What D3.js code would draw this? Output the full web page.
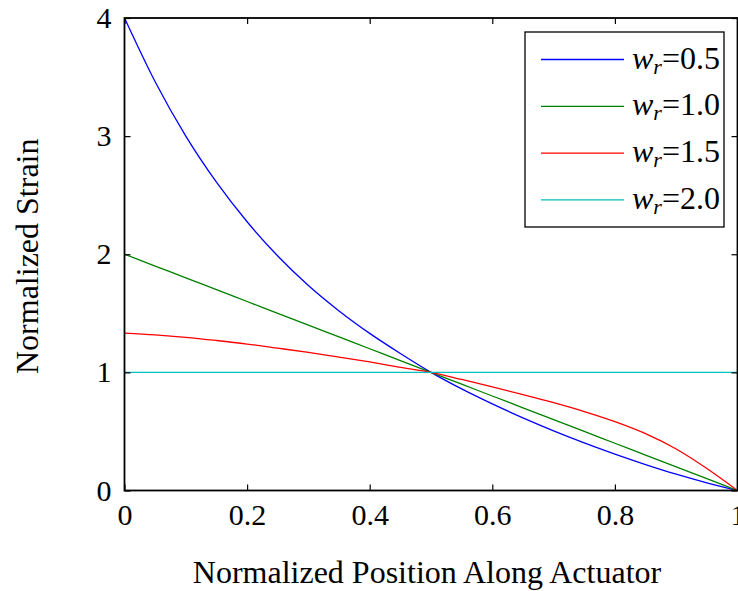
<!DOCTYPE html>
<html><head><meta charset="utf-8">
<script src="https://cdn.jsdelivr.net/npm/d3@7"></script>
<style>body{margin:0;background:#fff}svg{display:block}</style>
</head><body>
<script>
const xValues = [0,0.05,0.1,0.15,0.2,0.25,0.3,0.35,0.4,0.45,0.5,0.55,0.6,0.65,0.7,0.75,0.8,0.85,0.9,0.95,1];
const strainW05 = [4.0,3.46,3.0,2.61,2.275,1.985,1.735,1.52,1.33,1.16,1.0,0.86,0.733,0.615,0.505,0.403,0.308,0.22,0.138,0.065,0];
const strainW10 = [2.0,1.9,1.8,1.7,1.6,1.5,1.4,1.3,1.2,1.1,1.0,0.9,0.8,0.7,0.6,0.5,0.4,0.3,0.2,0.1,0];
const strainW15 = [1.333,1.318,1.297,1.27,1.24,1.205,1.169,1.13,1.088,1.043,1.0,0.94,0.877,0.812,0.743,0.668,0.583,0.481,0.351,0.186,0];
const strainW20 = [1,1,1,1,1,1,1,1,1,1,1,1,1,1,1,1,1,1,1,1,1];
const seriesNames = ["0.5","1.0","1.5","2.0"];
const seriesColors = ["#0000ff","#008000","#ff0000","#00bfbf"];
const xTicks = [0,0.2,0.4,0.6,0.8,1];
const xTickLabels = ["0","0.2","0.4","0.6","0.8","1"];
const yTicks = [0,1,2,3,4];
const yTickLabels = ["0","1","2","3","4"];

const W = 738, H = 591;
const L = 124.5, R = 737.5, T = 18, B = 490.5;
const font = "'Liberation Serif','Times New Roman',serif";
const svg = d3.select("body").append("svg").attr("width", W).attr("height", H);
const x = d3.scaleLinear().domain([0,1]).range([L,R]);
const y = d3.scaleLinear().domain([0,4]).range([B,T]);

const allSeries = [strainW05, strainW10, strainW15, strainW20];
const line = d3.line().x(d => x(d[0])).y(d => y(d[1])).curve(d3.curveMonotoneX);
const g = svg.append("g");
allSeries.forEach((s, i) => {
  g.append("path").datum(xValues.map((xv, j) => [xv, s[j]]))
    .attr("d", line).attr("fill", "none").attr("stroke", seriesColors[i]).attr("stroke-width", 1.3);
});

// axes box with inward ticks
const tickLen = 6;
const axB = d3.axisBottom(x).tickValues(xTicks).tickSize(-tickLen).tickFormat((d,i) => xTickLabels[i]).tickPadding(13);
const axT = d3.axisTop(x).tickValues(xTicks).tickSize(-tickLen).tickFormat("");
const axL = d3.axisLeft(y).tickValues(yTicks).tickSize(-tickLen).tickFormat((d,i) => yTickLabels[i]).tickPadding(13);
const axR = d3.axisRight(y).tickValues(yTicks).tickSize(-tickLen).tickFormat("");
function style(sel){
  sel.select(".domain").remove();
  sel.selectAll("line").attr("stroke","#000").attr("stroke-width",1.2);
  sel.selectAll("text").attr("font-family",font).attr("font-size",30).attr("fill","#000");
}
svg.append("g").attr("transform",`translate(0,${B})`).call(axB).call(style);
svg.append("g").attr("transform",`translate(0,${T})`).call(axT).call(style);
svg.append("g").attr("transform",`translate(${L},0)`).call(axL).call(style);
svg.append("g").attr("transform",`translate(${R},0)`).call(axR).call(style);
svg.append("rect").attr("x",L).attr("y",T).attr("width",R-L).attr("height",B-T)
  .attr("fill","none").attr("stroke","#000").attr("stroke-width",1.8);

// labels
svg.append("text").attr("x",427).attr("y",583).attr("text-anchor","middle")
  .attr("font-family",font).attr("font-size",32).text("Normalized Position Along Actuator");
svg.append("text").attr("transform",`translate(38,${(T+B)/2+2}) rotate(-90)`).attr("text-anchor","middle")
  .attr("font-family",font).attr("font-size",32).text("Normalized Strain");

// legend
const lg = svg.append("g");
lg.append("rect").attr("x",525).attr("y",32).attr("width",199).attr("height",195)
  .attr("fill","#fff").attr("stroke","#000").attr("stroke-width",1.3);
seriesNames.forEach((n, i) => {
  const yy = 59.5 + i*46.8;
  lg.append("line").attr("x1",541).attr("x2",624).attr("y1",yy).attr("y2",yy)
    .attr("stroke",seriesColors[i]).attr("stroke-width",1.3);
  const t = lg.append("text").attr("x",632).attr("y",yy+9).attr("font-family",font).attr("font-size",32);
  t.append("tspan").attr("font-style","italic").text("w");
  t.append("tspan").attr("font-style","italic").attr("font-size",22).attr("dy",5).text("r");
  t.append("tspan").attr("dy",-5).text("=" + n);
});
</script>
</body></html>
